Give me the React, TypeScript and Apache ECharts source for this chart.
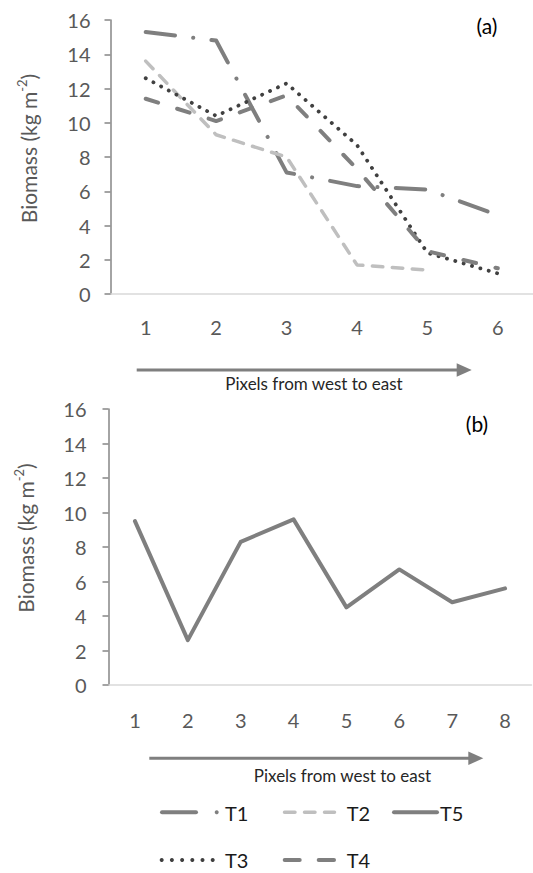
import React, { useEffect, useRef } from "react";
import * as echarts from "echarts";

const categoriesA = ["1", "2", "3", "4", "5", "6"];
const categoriesB = ["1", "2", "3", "4", "5", "6", "7", "8"];
const t1 = [15.3, 14.8, 7.1, 6.3, 6.1, 4.6];
const t2 = [13.6, 9.3, 8.0, 1.7, 1.4, null];
const t3 = [12.6, 10.4, 12.3, 8.7, 2.4, 1.2];
const t4 = [11.4, 10.1, 11.6, 7.3, 2.5, 1.5];
const t5 = [9.5, 2.6, 8.3, 9.6, 4.5, 6.7, 4.8, 5.6];
const yTicks = { min: 0, max: 16, interval: 2 };
const xTitle = "Pixels from west to east";
const panelLabels = ["(a)", "(b)"];

const FONT = "Lato";
const GRAY = "#7f7f7f";

export default function App() {
  const ref = useRef<HTMLDivElement>(null);
  useEffect(() => {
    const chart = echarts.init(ref.current!, null, { renderer: "svg" });
    const xAxisBase = (gridIndex: number, data: string[], margin: number) => ({
      type: "category",
      gridIndex,
      data,
      boundaryGap: true,
      axisLine: { lineStyle: { color: "#d9d9d9", width: 1.5 } },
      axisTick: { show: false },
      axisLabel: { color: "#595959", fontSize: 20, fontFamily: FONT, margin },
      splitLine: { show: false },
    });
    const yAxisBase = (gridIndex: number, margin: number) => ({
      type: "value",
      gridIndex,
      min: yTicks.min,
      max: yTicks.max,
      interval: yTicks.interval,
      axisLine: { show: true, lineStyle: { color: "#868686", width: 1.5 } },
      axisTick: { show: true, length: 6, lineStyle: { color: "#868686", width: 1.5 } },
      axisLabel: { color: "#595959", fontSize: 20, fontFamily: FONT, margin },
      splitLine: { show: false },
    });
    const line = (
      name: string,
      data: (number | null)[],
      color: string,
      width: number,
      type: any,
      idx: number
    ) => ({
      name,
      type: "line",
      xAxisIndex: idx,
      yAxisIndex: idx,
      data,
      symbol: "none",
      smooth: false,
      lineStyle: { color, width, type, cap: "round", join: "round" },
    });
    const nameText = (x: number, y: number) => ({
      type: "text",
      x,
      y,
      rotation: Math.PI / 2,
      style: {
        text: "Biomass (kg m{sup|-2})",
        fontFamily: FONT,
        fontSize: 21,
        fill: "#595959",
        align: "center",
        verticalAlign: "middle",
        lineHeight: 25,
        rich: {
          sup: { fontFamily: FONT, fontSize: 13, fill: "#595959", verticalAlign: "top", lineHeight: 25 },
        },
      },
    });
    const arrow = (x1: number, x2: number, y: number) => [
      { type: "line", shape: { x1, y1: y, x2: x2 - 13, y2: y }, style: { stroke: GRAY, lineWidth: 3 } },
      {
        type: "polygon",
        shape: { points: [[x2 - 15, y - 6.7], [x2, y], [x2 - 15, y + 6.7]] },
        style: { fill: GRAY },
      },
    ];
    const text = (t: string, x: number, y: number, size: number, color: string, align = "center") => ({
      type: "text",
      x,
      y,
      style: { text: t, fontFamily: FONT, fontSize: size, fill: color, align, verticalAlign: "middle" },
    });
    const lg = (x1: number, x2: number, y: number, color: string, extra: any = {}) => ({
      type: "line",
      shape: { x1, y1: y, x2, y2: y },
      style: { stroke: color, lineWidth: 4, lineCap: "round", ...extra },
    });
    const dots = [0, 1, 2, 3, 4, 5].map((i) => ({
      type: "circle",
      shape: { cx: 161.7 + i * 10.2, cy: 860, r: 2 },
      style: { fill: "#404040" },
    }));

    chart.setOption({
      animation: false,
      backgroundColor: "#ffffff",
      grid: [
        { left: 110.5, top: 20, width: 430, height: 274, containLabel: false },
        { left: 108.5, top: 409, width: 423, height: 276, containLabel: false },
      ],
      xAxis: [xAxisBase(0, categoriesA, 23), xAxisBase(1, categoriesB, 25)],
      yAxis: [yAxisBase(0, 20), yAxisBase(1, 22)],
      series: [
        line("T1", t1, GRAY, 4, [29.5, 18.3, 0.1, 18.3], 0),
        line("T2", t2, "#bfbfbf", 3.5, [10.5, 9.5], 0),
        line("T3", t3, "#404040", 3.8, [0.1, 8.6], 0),
        line("T4", t4, GRAY, 4, [13, 20], 0),
        line("T5", t5, GRAY, 4, "solid", 1),
      ],
      graphic: [
        nameText(28, 148.5),
        nameText(25, 538),
        text(panelLabels[0], 487, 25, 21, "#000000"),
        text(panelLabels[1], 477, 423, 21, "#000000"),
        ...arrow(136.7, 471.7, 370),
        ...arrow(149.3, 483.3, 758.3),
        text(xTitle, 314, 383.5, 17, "#262626"),
        text(xTitle, 342.5, 775, 17, "#262626"),
        lg(162, 196, 812.3, GRAY),
        { type: "circle", shape: { cx: 216.7, cy: 812.3, r: 2 }, style: { fill: GRAY } },
        text("T1", 225, 812.5, 20, "#1a1a1a", "left"),
        lg(284.5, 334.5, 812.3, "#bfbfbf", { lineDash: [10.5, 9.5], lineWidth: 3.5 }),
        text("T2", 346.7, 812.5, 20, "#1a1a1a", "left"),
        lg(394, 437, 812.3, GRAY),
        text("T5", 440, 812.5, 20, "#1a1a1a", "left"),
        ...dots,
        text("T3", 225, 859.5, 20, "#1a1a1a", "left"),
        lg(284.7, 299.7, 860, GRAY),
        lg(318.7, 334, 860, GRAY),
        text("T4", 346.7, 859.5, 20, "#1a1a1a", "left"),
      ],
    });
    return () => chart.dispose();
  }, []);
  return <div ref={ref} style={{ position: "absolute", left: 0, top: 0, width: 533, height: 873 }} />;
}
